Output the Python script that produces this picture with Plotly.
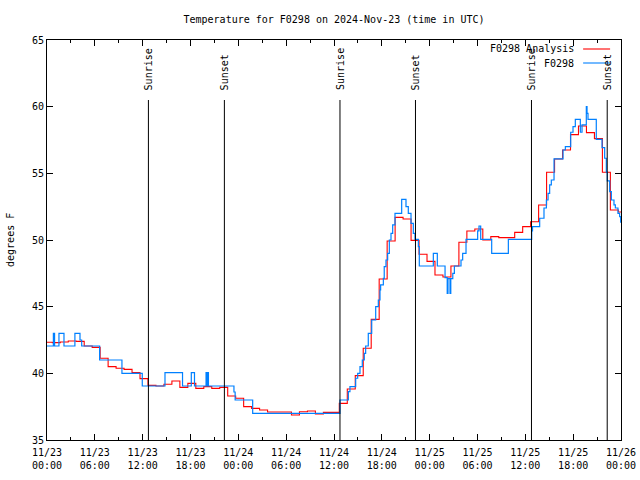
import pandas as pd
import plotly.graph_objects as go

START = pd.Timestamp("2024-11-23 00:00")

# Analysis (hourly, readings at hh:40), values in deg F
analysis_start = "2024-11-22 23:40"
analysis_vals = [
    42.33, 42.3, 42.35, 42.43, 42.4, 42.05, 41.95, 41.13, 40.5, 40.38,
    40.3, 40.05, 39.6, 39.1, 39.05, 39.18, 39.43, 38.95, 39.25, 38.87,
    39.0, 38.87, 38.95, 38.3, 38.13, 37.5, 37.37, 37.25, 37.1, 37.1,
    37.1, 36.88, 37.12, 37.17, 36.95, 37.07, 37.07, 37.75, 38.83, 39.83,
    41.88, 44.05, 47.08, 49.93, 51.7, 51.58, 49.97, 48.93, 48.4, 47.38,
    47.22, 48.05, 49.83, 50.68, 50.83, 50.0, 50.25, 50.18, 50.18, 50.57,
    51.0, 51.37, 52.62, 55.08, 56.08, 56.75, 57.9, 58.55, 58.05, 57.6,
    55.08, 52.25, 52.1, 52.0,
]

# Observations: hours since 11/23 00:00 and value
obs_hours = [
    0, 0.8, 0.95, 1.5, 2.13, 3.5, 4.14, 4.35, 6.6, 9.4,
    11.95, 14.8, 17.0, 18.1, 18.5, 19.95, 20.05, 20.15, 20.25, 23.45,
    23.6, 25.8, 36.75, 37.8, 38.0, 38.72, 38.97, 39.26, 39.55, 39.8,
    39.97, 40.3, 40.73, 41.23, 41.56, 41.77, 41.85, 42.19, 42.3, 42.52,
    42.73, 42.94, 43.15, 43.36, 43.65, 44.49, 45.03, 45.32, 45.66, 45.95,
    46.16, 46.58, 46.7, 48.46, 48.96, 49.93, 50.2, 50.3, 50.55, 50.65,
    50.9, 51.1, 51.93, 52.14, 52.56, 54.02, 54.19, 54.4, 55.78, 57.87,
    60.8, 60.9, 61.8, 62.34, 62.64, 62.85, 63.05, 63.26, 63.6, 64.73,
    65.02, 65.69, 65.98, 66.27, 66.9, 67.11, 67.65, 67.74, 67.86, 68.9,
    69.62, 69.95, 70.16, 70.28, 70.58, 70.79, 71.12, 71.29, 71.62, 71.83,
    71.96, 72.0,
]
obs_vals = [
    42.05, 43.0, 42.05, 43.0, 42.05, 43.0, 42.5, 42.05, 41.0, 40.0,
    39.05, 40.05, 39.05, 40.05, 39.05, 40.05, 39.05, 40.05, 39.05, 38.6,
    38.0, 37.0, 38.0, 38.63, 39.0, 39.63, 40.0, 40.5, 41.0, 41.5,
    42.05, 43.0, 44.0, 45.0, 45.5, 46.25, 46.63, 47.12, 48.0, 48.5,
    49.0, 50.0, 50.5, 51.13, 52.0, 53.05, 52.5, 52.0, 51.25, 50.5,
    50.05, 49.5, 48.05, 49.0, 48.05, 47.18, 46.0, 47.1, 46.0, 47.1,
    47.5, 48.05, 48.5, 49.0, 50.05, 50.68, 51.05, 50.05, 49.0, 50.05,
    50.68, 51.0, 51.63, 52.4, 53.0, 53.5, 54.13, 54.5, 56.08, 56.75,
    57.0, 58.08, 58.5, 59.05, 58.08, 58.63, 60.0, 59.5, 59.05, 57.55,
    56.93, 56.13, 55.08, 54.43, 53.63, 53.0, 52.63, 52.4, 52.0, 51.75,
    51.33, 51.33,
]

# Sun events (hours since 11/23 00:00)
sun_labels = ["Sunrise", "Sunset", "Sunrise", "Sunset", "Sunrise", "Sunset"]
sun_hours = [12.72, 22.25, 36.75, 46.22, 60.77, 70.27]

tick_labels = ["11/23<br>00:00", "11/23<br>06:00", "11/23<br>12:00", "11/23<br>18:00",
               "11/24<br>00:00", "11/24<br>06:00", "11/24<br>12:00", "11/24<br>18:00",
               "11/25<br>00:00", "11/25<br>06:00", "11/25<br>12:00", "11/25<br>18:00",
               "11/26<br>00:00"]
tick_hours = [0, 6, 12, 18, 24, 30, 36, 42, 48, 54, 60, 66, 72]

y_ticks = [35, 40, 45, 50, 55, 60, 65]

FONT = "DejaVu Sans Mono"

analysis_t = pd.date_range(analysis_start, periods=len(analysis_vals), freq="h")
obs_t = [START + pd.Timedelta(hours=h) for h in obs_hours]
sun_t = [START + pd.Timedelta(hours=h) for h in sun_hours]
tick_t = [START + pd.Timedelta(hours=h) for h in tick_hours]

fig = go.Figure()
fig.add_trace(go.Scatter(x=analysis_t, y=analysis_vals, mode="lines",
                         line=dict(color="#ff0000", width=1.1, shape="hv"),
                         name="F0298 Analysis", showlegend=False))
fig.add_trace(go.Scatter(x=obs_t, y=obs_vals, mode="lines",
                         line=dict(color="#0080ff", width=1.2, shape="hv"),
                         name="F0298", showlegend=False))

for t, lab in zip(sun_t, sun_labels):
    fig.add_shape(type="line", xref="x", yref="paper", x0=t, x1=t, y0=0, y1=0.85,
                  line=dict(color="black", width=1))
    fig.add_annotation(x=t, y=0.87, xref="x", yref="paper", text=lab, showarrow=False,
                       textangle=-90, xanchor="center", yanchor="bottom",
                       font=dict(family=FONT, size=10, color="black"))

# manual legend (text left of sample line, gnuplot style)
leg = [("F0298 Analysis", "#ff0000", 0.9775), ("F0298", "#0080ff", 0.9425)]
for text, col, yy in leg:
    fig.add_annotation(x=0.922, y=yy, xref="paper", yref="paper", text=text,
                       showarrow=False, xanchor="right", yanchor="middle",
                       font=dict(family=FONT, size=10, color="black"))
    fig.add_shape(type="line", xref="paper", yref="paper", x0=0.934, x1=0.981,
                  y0=yy, y1=yy, line=dict(color=col, width=1.1))

fig.add_annotation(x=-0.0645, y=0.5, xref="paper", yref="paper", text="degrees F",
                   showarrow=False, textangle=-90, xanchor="center", yanchor="middle",
                   font=dict(family=FONT, size=10, color="black"))

fig.update_layout(
    width=640, height=480, autosize=False,
    margin=dict(l=47, r=19, t=40, b=40, pad=0),
    paper_bgcolor="white", plot_bgcolor="white",
    font=dict(family=FONT, size=10, color="black"),
    title=dict(text="Temperature for F0298 on 2024-Nov-23 (time in UTC)",
               x=0.5, xref="paper", y=1 - 19 / 480, yanchor="middle",
               font=dict(family=FONT, size=10, color="black")),
    xaxis=dict(range=[START, START + pd.Timedelta(hours=72)], automargin=False,
               tickmode="array", tickvals=tick_t, ticktext=tick_labels,
               ticks="inside", ticklen=6, tickcolor="black", tickwidth=1,
               ticklabelstandoff=3,
               showline=True, linecolor="black", linewidth=1, mirror="ticks",
               showgrid=False, zeroline=False,
               minor=dict(tickmode="linear", tick0=START, dtick=3 * 3600 * 1000,
                          ticks="inside", ticklen=3, tickcolor="black", showgrid=False)),
    yaxis=dict(range=[35, 65], automargin=False, tickmode="array", tickvals=y_ticks,
               ticktext=[str(v) for v in y_ticks],
               ticks="inside", ticklen=6, tickcolor="black", tickwidth=1,
               showline=True, linecolor="black", linewidth=1, mirror="ticks",
               showgrid=False, zeroline=False),
)

fig.write_html("out.html", config={"displayModeBar": False},
               post_script="document.body.style.margin='0px';")
